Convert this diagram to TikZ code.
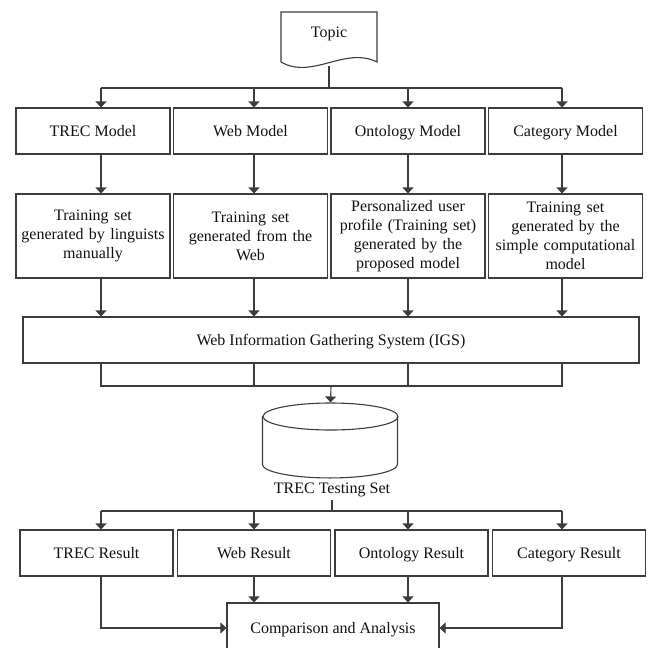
\documentclass[tikz,border=0pt]{standalone}
\usepackage{fontspec}
\setmainfont{Liberation Serif}
\usetikzlibrary{arrows.meta}
\definecolor{linegray}{HTML}{3C3C3C}
\definecolor{textgray}{HTML}{111111}
\begin{document}
\begin{tikzpicture}[x=1pt,y=-1pt,line width=1.1pt,draw=linegray,
    box/.style={draw=linegray,line width=1.1pt,inner sep=2pt,align=center,
      text=textgray,font=\fontsize{16}{19}\selectfont},
    oneline/.style={text height=12.5pt,text depth=1.7pt},
    modelbox/.style={box,oneline,minimum width=154pt,minimum height=46pt},
    setbox/.style={box,minimum width=154pt,minimum height=84pt,text width=150pt},
    resbox/.style={box,oneline,minimum width=153pt,minimum height=46pt},
    arr/.style={-{Triangle[width=11pt,length=6pt]}}]
      \useasboundingbox (0,0) rectangle (648,648);%
      \clip (0,0) rectangle (648,648);%

      % columns of the arrows
      \coordinate (c1) at (101,0);%
      \coordinate (c2) at (254,0);%
      \coordinate (c3) at (408,0);%
      \coordinate (c4) at (562,0);%

      % topic document
      \node[text=textgray,font=\fontsize{16}{19}\selectfont] (topic) at (329,34) {Topic};%
      \draw (281,62) -- (281,12) -- (377,12) -- (377,62)
        .. controls (345,46) and (312,80) .. (281,62);%
      \coordinate (topicb) at (329,66);%
      \coordinate (fk1) at (329,88);%

      % models
      \node[modelbox] (trecm) at (93,131) {TREC Model};%
      \node[modelbox] (webm) at (250.5,131) {Web Model};%
      \node[modelbox] (ontm) at (408,131) {Ontology Model};%
      \node[modelbox] (catm) at (565.5,131) {Category Model};%

      % training sets
      \node[setbox] (trecs) at (93,236) {Training set\\generated by linguists\\manually};%
      \node[setbox] (webs) at (250.5,236) {Training set\\generated from the\\Web};%
      \node[setbox] (onts) at (408,236) {Personalized user\\profile (Training set)\\generated by the\\proposed model};%
      \node[setbox] (cats) at (565.5,236) {Training set\\generated by the\\simple computational\\model};%

      \node[box,oneline,minimum width=616pt,minimum height=46pt] (igs) at (331,340) {Web Information Gathering System (IGS)};%
      \coordinate (fk2) at (331,386);%

      % testing set
      \node[inner sep=0pt,minimum width=135pt,minimum height=75pt] (db) at (330.5,440.5) {};%
      \draw (db.north west) ++(0,13.5) -- ++(0,48.5)
        arc[start angle=180,end angle=0,x radius=67.5,y radius=13.5] -- ++(0,-48.5);%
      \draw (330.5,416.5) ellipse[x radius=67.5,y radius=13.5];%
      \node[text=textgray,font=\fontsize{16}{19}\selectfont,text height=11pt,text depth=3.5pt,inner sep=2pt] (dblabel) at (332,490) {TREC Testing Set};%
      \coordinate (fk3) at (332,511);%

      % results
      \node[resbox] (trecr) at (96.5,553) {TREC Result};%
      \node[resbox] (webr) at (254,553) {Web Result};%
      \node[resbox] (ontr) at (411.5,553) {Ontology Result};%
      \node[resbox] (catr) at (569,553) {Category Result};%

      \node[box,oneline,minimum width=212pt,minimum height=50pt] (cmp) at (333,628) {Comparison and Analysis};%

      % topic to models
      \draw (topicb) -- (fk1);%
      \draw (c1 |- fk1) -- (c4 |- fk1);%
      \draw[arr] (c1 |- fk1) -- (c1 |- trecm.north);%
      \draw[arr] (c2 |- fk1) -- (c2 |- webm.north);%
      \draw[arr] (c3 |- fk1) -- (c3 |- ontm.north);%
      \draw[arr] (c4 |- fk1) -- (c4 |- catm.north);%

      % models to training sets
      \draw[arr] (trecm.south -| c1) -- (trecs.north -| c1);%
      \draw[arr] (webm.south -| c2) -- (webs.north -| c2);%
      \draw[arr] (ontm.south -| c3) -- (onts.north -| c3);%
      \draw[arr] (catm.south -| c4) -- (cats.north -| c4);%

      % training sets to IGS
      \draw[arr] (trecs.south -| c1) -- (igs.north -| c1);%
      \draw[arr] (webs.south -| c2) -- (igs.north -| c2);%
      \draw[arr] (onts.south -| c3) -- (igs.north -| c3);%
      \draw[arr] (cats.south -| c4) -- (igs.north -| c4);%

      % IGS to testing set
      \draw (igs.south -| c1) -- (c1 |- fk2) -- (c4 |- fk2) -- (igs.south -| c4);%
      \draw (igs.south -| c2) -- (c2 |- fk2);%
      \draw (igs.south -| c3) -- (c3 |- fk2);%
      \draw[arr] (fk2) -- (db.north);%

      % testing set to results
      \draw (dblabel.south) -- (fk3);%
      \draw (c1 |- fk3) -- (c4 |- fk3);%
      \draw[arr] (c1 |- fk3) -- (c1 |- trecr.north);%
      \draw[arr] (c2 |- fk3) -- (c2 |- webr.north);%
      \draw[arr] (c3 |- fk3) -- (c3 |- ontr.north);%
      \draw[arr] (c4 |- fk3) -- (c4 |- catr.north);%

      % results to comparison
      \draw[arr] (trecr.south -| c1) |- (cmp.west);%
      \draw[arr] (webr.south -| c2) -- (cmp.north -| c2);%
      \draw[arr] (ontr.south -| c3) -- (cmp.north -| c3);%
      \draw[arr] (catr.south -| c4) |- (cmp.east);%
    \end{tikzpicture}
\end{document}
